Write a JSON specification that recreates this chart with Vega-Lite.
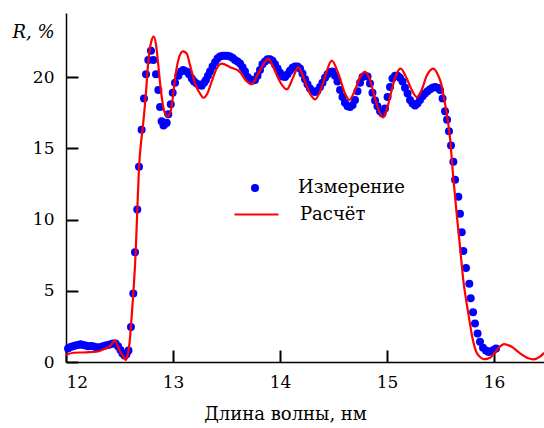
{
  "$schema": "https://vega.github.io/schema/vega-lite/v6.json",
  "width": 478,
  "height": 349,
  "autosize": {"type": "none"},
  "padding": {"left": 66, "top": 13, "right": 0, "bottom": 66},
  "background": "white",
  "config": {
    "view": {"stroke": null},
    "font": "DejaVu Serif",
    "axis": {
      "grid": false,
      "domainColor": "black",
      "domainWidth": 1.5,
      "ticks": true,
      "tickColor": "black",
      "tickWidth": 2,
      "tickSize": -12,
      "labelFont": "DejaVu Serif",
      "labelFontSize": 17,
      "labelColor": "black",
      "titleFont": "DejaVu Serif",
      "titleFontSize": 18,
      "titleFontWeight": "normal",
      "titleColor": "black"
    },
    "legend": {
      "labelFont": "DejaVu Serif",
      "labelFontSize": 18,
      "labelColor": "black",
      "padding": 0
    }
  },
  "datasets": {
    "meas": [
      {"lam": 12.019, "R": 0.95, "s": "Измерение"},
      {"lam": 12.042, "R": 1.05, "s": "Измерение"},
      {"lam": 12.065, "R": 1.10, "s": "Измерение"},
      {"lam": 12.089, "R": 1.15, "s": "Измерение"},
      {"lam": 12.112, "R": 1.20, "s": "Измерение"},
      {"lam": 12.136, "R": 1.25, "s": "Измерение"},
      {"lam": 12.159, "R": 1.20, "s": "Измерение"},
      {"lam": 12.182, "R": 1.15, "s": "Измерение"},
      {"lam": 12.206, "R": 1.10, "s": "Измерение"},
      {"lam": 12.229, "R": 1.12, "s": "Измерение"},
      {"lam": 12.252, "R": 1.10, "s": "Измерение"},
      {"lam": 12.276, "R": 1.05, "s": "Измерение"},
      {"lam": 12.299, "R": 1.00, "s": "Измерение"},
      {"lam": 12.322, "R": 1.05, "s": "Измерение"},
      {"lam": 12.346, "R": 1.10, "s": "Измерение"},
      {"lam": 12.369, "R": 1.15, "s": "Измерение"},
      {"lam": 12.393, "R": 1.20, "s": "Измерение"},
      {"lam": 12.416, "R": 1.25, "s": "Измерение"},
      {"lam": 12.439, "R": 1.30, "s": "Измерение"},
      {"lam": 12.463, "R": 1.30, "s": "Измерение"},
      {"lam": 12.486, "R": 1.10, "s": "Измерение"},
      {"lam": 12.509, "R": 0.85, "s": "Измерение"},
      {"lam": 12.528, "R": 0.60, "s": "Измерение"},
      {"lam": 12.547, "R": 0.45, "s": "Измерение"},
      {"lam": 12.565, "R": 0.55, "s": "Измерение"},
      {"lam": 12.584, "R": 0.80, "s": "Измерение"},
      {"lam": 12.607, "R": 2.45, "s": "Измерение"},
      {"lam": 12.629, "R": 4.80, "s": "Измерение"},
      {"lam": 12.645, "R": 7.70, "s": "Измерение"},
      {"lam": 12.666, "R": 10.70, "s": "Измерение"},
      {"lam": 12.682, "R": 13.70, "s": "Измерение"},
      {"lam": 12.707, "R": 16.30, "s": "Измерение"},
      {"lam": 12.729, "R": 18.50, "s": "Измерение"},
      {"lam": 12.748, "R": 20.20, "s": "Измерение"},
      {"lam": 12.769, "R": 21.20, "s": "Измерение"},
      {"lam": 12.794, "R": 21.85, "s": "Измерение"},
      {"lam": 12.816, "R": 21.20, "s": "Измерение"},
      {"lam": 12.841, "R": 20.20, "s": "Измерение"},
      {"lam": 12.863, "R": 19.10, "s": "Измерение"},
      {"lam": 12.879, "R": 17.90, "s": "Измерение"},
      {"lam": 12.894, "R": 16.90, "s": "Измерение"},
      {"lam": 12.911, "R": 16.60, "s": "Измерение"},
      {"lam": 12.925, "R": 16.70, "s": "Измерение"},
      {"lam": 12.941, "R": 16.80, "s": "Измерение"},
      {"lam": 12.956, "R": 17.40, "s": "Измерение"},
      {"lam": 12.979, "R": 18.10, "s": "Измерение"},
      {"lam": 12.997, "R": 18.90, "s": "Измерение"},
      {"lam": 13.019, "R": 19.60, "s": "Измерение"},
      {"lam": 13.050, "R": 20.10, "s": "Измерение"},
      {"lam": 13.075, "R": 20.40, "s": "Измерение"},
      {"lam": 13.096, "R": 20.50, "s": "Измерение"},
      {"lam": 13.128, "R": 20.40, "s": "Измерение"},
      {"lam": 13.150, "R": 20.20, "s": "Измерение"},
      {"lam": 13.175, "R": 19.90, "s": "Измерение"},
      {"lam": 13.196, "R": 19.70, "s": "Измерение"},
      {"lam": 13.221, "R": 19.55, "s": "Измерение"},
      {"lam": 13.243, "R": 19.45, "s": "Измерение"},
      {"lam": 13.268, "R": 19.40, "s": "Измерение"},
      {"lam": 13.290, "R": 19.60, "s": "Измерение"},
      {"lam": 13.308, "R": 19.80, "s": "Измерение"},
      {"lam": 13.327, "R": 20.10, "s": "Измерение"},
      {"lam": 13.346, "R": 20.40, "s": "Измерение"},
      {"lam": 13.369, "R": 20.75, "s": "Измерение"},
      {"lam": 13.393, "R": 21.05, "s": "Измерение"},
      {"lam": 13.416, "R": 21.30, "s": "Измерение"},
      {"lam": 13.439, "R": 21.45, "s": "Измерение"},
      {"lam": 13.463, "R": 21.50, "s": "Измерение"},
      {"lam": 13.486, "R": 21.50, "s": "Измерение"},
      {"lam": 13.509, "R": 21.50, "s": "Измерение"},
      {"lam": 13.533, "R": 21.45, "s": "Измерение"},
      {"lam": 13.556, "R": 21.35, "s": "Измерение"},
      {"lam": 13.579, "R": 21.20, "s": "Измерение"},
      {"lam": 13.603, "R": 21.10, "s": "Измерение"},
      {"lam": 13.626, "R": 20.95, "s": "Измерение"},
      {"lam": 13.650, "R": 20.70, "s": "Измерение"},
      {"lam": 13.673, "R": 20.40, "s": "Измерение"},
      {"lam": 13.696, "R": 20.00, "s": "Измерение"},
      {"lam": 13.720, "R": 19.85, "s": "Измерение"},
      {"lam": 13.743, "R": 19.75, "s": "Измерение"},
      {"lam": 13.766, "R": 19.80, "s": "Измерение"},
      {"lam": 13.790, "R": 20.10, "s": "Измерение"},
      {"lam": 13.813, "R": 20.50, "s": "Измерение"},
      {"lam": 13.836, "R": 20.90, "s": "Измерение"},
      {"lam": 13.860, "R": 21.10, "s": "Измерение"},
      {"lam": 13.883, "R": 21.25, "s": "Измерение"},
      {"lam": 13.907, "R": 21.25, "s": "Измерение"},
      {"lam": 13.930, "R": 21.15, "s": "Измерение"},
      {"lam": 13.953, "R": 20.90, "s": "Измерение"},
      {"lam": 13.977, "R": 20.60, "s": "Измерение"},
      {"lam": 14.000, "R": 20.30, "s": "Измерение"},
      {"lam": 14.023, "R": 20.05, "s": "Измерение"},
      {"lam": 14.047, "R": 20.00, "s": "Измерение"},
      {"lam": 14.070, "R": 20.20, "s": "Измерение"},
      {"lam": 14.093, "R": 20.45, "s": "Измерение"},
      {"lam": 14.117, "R": 20.65, "s": "Измерение"},
      {"lam": 14.140, "R": 20.75, "s": "Измерение"},
      {"lam": 14.164, "R": 20.75, "s": "Измерение"},
      {"lam": 14.187, "R": 20.60, "s": "Измерение"},
      {"lam": 14.210, "R": 20.25, "s": "Измерение"},
      {"lam": 14.234, "R": 19.85, "s": "Измерение"},
      {"lam": 14.257, "R": 19.50, "s": "Измерение"},
      {"lam": 14.280, "R": 19.20, "s": "Измерение"},
      {"lam": 14.304, "R": 19.00, "s": "Измерение"},
      {"lam": 14.327, "R": 18.95, "s": "Измерение"},
      {"lam": 14.350, "R": 19.05, "s": "Измерение"},
      {"lam": 14.374, "R": 19.30, "s": "Измерение"},
      {"lam": 14.397, "R": 19.60, "s": "Измерение"},
      {"lam": 14.421, "R": 19.95, "s": "Измерение"},
      {"lam": 14.444, "R": 20.20, "s": "Измерение"},
      {"lam": 14.467, "R": 20.35, "s": "Измерение"},
      {"lam": 14.491, "R": 20.40, "s": "Измерение"},
      {"lam": 14.514, "R": 20.10, "s": "Измерение"},
      {"lam": 14.537, "R": 19.70, "s": "Измерение"},
      {"lam": 14.561, "R": 19.10, "s": "Измерение"},
      {"lam": 14.584, "R": 18.60, "s": "Измерение"},
      {"lam": 14.607, "R": 18.20, "s": "Измерение"},
      {"lam": 14.631, "R": 17.95, "s": "Измерение"},
      {"lam": 14.654, "R": 17.90, "s": "Измерение"},
      {"lam": 14.678, "R": 18.05, "s": "Измерение"},
      {"lam": 14.701, "R": 18.40, "s": "Измерение"},
      {"lam": 14.724, "R": 19.00, "s": "Измерение"},
      {"lam": 14.748, "R": 19.60, "s": "Измерение"},
      {"lam": 14.771, "R": 20.00, "s": "Измерение"},
      {"lam": 14.794, "R": 20.10, "s": "Измерение"},
      {"lam": 14.818, "R": 20.05, "s": "Измерение"},
      {"lam": 14.841, "R": 19.55, "s": "Измерение"},
      {"lam": 14.864, "R": 18.90, "s": "Измерение"},
      {"lam": 14.888, "R": 18.35, "s": "Измерение"},
      {"lam": 14.911, "R": 17.95, "s": "Измерение"},
      {"lam": 14.935, "R": 17.60, "s": "Измерение"},
      {"lam": 14.958, "R": 17.45, "s": "Измерение"},
      {"lam": 14.981, "R": 17.80, "s": "Измерение"},
      {"lam": 15.005, "R": 18.60, "s": "Измерение"},
      {"lam": 15.028, "R": 19.30, "s": "Измерение"},
      {"lam": 15.051, "R": 19.90, "s": "Измерение"},
      {"lam": 15.075, "R": 20.10, "s": "Измерение"},
      {"lam": 15.098, "R": 20.10, "s": "Измерение"},
      {"lam": 15.121, "R": 19.95, "s": "Измерение"},
      {"lam": 15.145, "R": 19.70, "s": "Измерение"},
      {"lam": 15.168, "R": 19.25, "s": "Измерение"},
      {"lam": 15.192, "R": 18.85, "s": "Измерение"},
      {"lam": 15.215, "R": 18.40, "s": "Измерение"},
      {"lam": 15.238, "R": 18.15, "s": "Измерение"},
      {"lam": 15.262, "R": 18.00, "s": "Измерение"},
      {"lam": 15.285, "R": 18.15, "s": "Измерение"},
      {"lam": 15.308, "R": 18.40, "s": "Измерение"},
      {"lam": 15.332, "R": 18.65, "s": "Измерение"},
      {"lam": 15.355, "R": 18.85, "s": "Измерение"},
      {"lam": 15.379, "R": 19.00, "s": "Измерение"},
      {"lam": 15.402, "R": 19.15, "s": "Измерение"},
      {"lam": 15.425, "R": 19.25, "s": "Измерение"},
      {"lam": 15.449, "R": 19.30, "s": "Измерение"},
      {"lam": 15.472, "R": 19.25, "s": "Измерение"},
      {"lam": 15.495, "R": 19.10, "s": "Измерение"},
      {"lam": 15.519, "R": 18.50, "s": "Измерение"},
      {"lam": 15.542, "R": 17.60, "s": "Измерение"},
      {"lam": 15.561, "R": 17.00, "s": "Измерение"},
      {"lam": 15.579, "R": 16.20, "s": "Измерение"},
      {"lam": 15.598, "R": 15.20, "s": "Измерение"},
      {"lam": 15.620, "R": 14.05, "s": "Измерение"},
      {"lam": 15.636, "R": 12.80, "s": "Измерение"},
      {"lam": 15.666, "R": 11.60, "s": "Измерение"},
      {"lam": 15.682, "R": 10.40, "s": "Измерение"},
      {"lam": 15.698, "R": 9.10, "s": "Измерение"},
      {"lam": 15.713, "R": 7.80, "s": "Измерение"},
      {"lam": 15.738, "R": 6.60, "s": "Измерение"},
      {"lam": 15.769, "R": 5.50, "s": "Измерение"},
      {"lam": 15.782, "R": 4.47, "s": "Измерение"},
      {"lam": 15.804, "R": 3.50, "s": "Измерение"},
      {"lam": 15.822, "R": 2.70, "s": "Измерение"},
      {"lam": 15.846, "R": 2.00, "s": "Измерение"},
      {"lam": 15.869, "R": 1.43, "s": "Измерение"},
      {"lam": 15.897, "R": 1.00, "s": "Измерение"},
      {"lam": 15.925, "R": 0.80, "s": "Измерение"},
      {"lam": 15.949, "R": 0.70, "s": "Измерение"},
      {"lam": 15.972, "R": 0.75, "s": "Измерение"},
      {"lam": 15.995, "R": 0.85, "s": "Измерение"},
      {"lam": 16.019, "R": 0.95, "s": "Измерение"}
    ],
    "calc": [
      {"lam": 12.000, "R": 0.49, "s": "Расчёт"},
      {"lam": 12.068, "R": 0.65, "s": "Расчёт"},
      {"lam": 12.193, "R": 0.68, "s": "Расчёт"},
      {"lam": 12.287, "R": 0.72, "s": "Расчёт"},
      {"lam": 12.349, "R": 0.89, "s": "Расчёт"},
      {"lam": 12.411, "R": 1.12, "s": "Расчёт"},
      {"lam": 12.458, "R": 1.50, "s": "Расчёт"},
      {"lam": 12.498, "R": 0.84, "s": "Расчёт"},
      {"lam": 12.536, "R": 0.37, "s": "Расчёт"},
      {"lam": 12.561, "R": 0.15, "s": "Расчёт"},
      {"lam": 12.579, "R": 0.60, "s": "Расчёт"},
      {"lam": 12.593, "R": 1.30, "s": "Расчёт"},
      {"lam": 12.607, "R": 2.50, "s": "Расчёт"},
      {"lam": 12.629, "R": 4.80, "s": "Расчёт"},
      {"lam": 12.651, "R": 7.70, "s": "Расчёт"},
      {"lam": 12.666, "R": 10.60, "s": "Расчёт"},
      {"lam": 12.682, "R": 13.60, "s": "Расчёт"},
      {"lam": 12.707, "R": 15.80, "s": "Расчёт"},
      {"lam": 12.722, "R": 16.80, "s": "Расчёт"},
      {"lam": 12.748, "R": 19.00, "s": "Расчёт"},
      {"lam": 12.769, "R": 21.10, "s": "Расчёт"},
      {"lam": 12.801, "R": 22.60, "s": "Расчёт"},
      {"lam": 12.820, "R": 22.85, "s": "Расчёт"},
      {"lam": 12.841, "R": 22.30, "s": "Расчёт"},
      {"lam": 12.863, "R": 20.80, "s": "Расчёт"},
      {"lam": 12.885, "R": 19.20, "s": "Расчёт"},
      {"lam": 12.909, "R": 17.90, "s": "Расчёт"},
      {"lam": 12.944, "R": 17.25, "s": "Расчёт"},
      {"lam": 12.972, "R": 17.45, "s": "Расчёт"},
      {"lam": 12.997, "R": 18.50, "s": "Расчёт"},
      {"lam": 13.019, "R": 19.90, "s": "Расчёт"},
      {"lam": 13.050, "R": 21.20, "s": "Расчёт"},
      {"lam": 13.093, "R": 21.80, "s": "Расчёт"},
      {"lam": 13.128, "R": 21.66, "s": "Расчёт"},
      {"lam": 13.159, "R": 20.84, "s": "Расчёт"},
      {"lam": 13.206, "R": 19.55, "s": "Расчёт"},
      {"lam": 13.252, "R": 18.85, "s": "Расчёт"},
      {"lam": 13.285, "R": 18.55, "s": "Расчёт"},
      {"lam": 13.321, "R": 18.85, "s": "Расчёт"},
      {"lam": 13.362, "R": 19.70, "s": "Расчёт"},
      {"lam": 13.408, "R": 20.60, "s": "Расчёт"},
      {"lam": 13.455, "R": 20.95, "s": "Расчёт"},
      {"lam": 13.533, "R": 20.70, "s": "Расчёт"},
      {"lam": 13.626, "R": 20.35, "s": "Расчёт"},
      {"lam": 13.689, "R": 19.70, "s": "Расчёт"},
      {"lam": 13.736, "R": 19.50, "s": "Расчёт"},
      {"lam": 13.797, "R": 20.26, "s": "Расчёт"},
      {"lam": 13.860, "R": 21.07, "s": "Расчёт"},
      {"lam": 13.891, "R": 21.30, "s": "Расчёт"},
      {"lam": 13.937, "R": 20.70, "s": "Расчёт"},
      {"lam": 14.000, "R": 19.67, "s": "Расчёт"},
      {"lam": 14.063, "R": 19.14, "s": "Расчёт"},
      {"lam": 14.124, "R": 20.00, "s": "Расчёт"},
      {"lam": 14.171, "R": 20.70, "s": "Расчёт"},
      {"lam": 14.218, "R": 20.00, "s": "Расчёт"},
      {"lam": 14.280, "R": 18.85, "s": "Расчёт"},
      {"lam": 14.327, "R": 18.43, "s": "Расчёт"},
      {"lam": 14.390, "R": 19.30, "s": "Расчёт"},
      {"lam": 14.436, "R": 20.40, "s": "Расчёт"},
      {"lam": 14.483, "R": 21.15, "s": "Расчёт"},
      {"lam": 14.545, "R": 20.26, "s": "Расчёт"},
      {"lam": 14.607, "R": 18.85, "s": "Расчёт"},
      {"lam": 14.648, "R": 18.40, "s": "Расчёт"},
      {"lam": 14.701, "R": 19.10, "s": "Расчёт"},
      {"lam": 14.748, "R": 20.00, "s": "Расчёт"},
      {"lam": 14.794, "R": 20.37, "s": "Расчёт"},
      {"lam": 14.841, "R": 19.80, "s": "Расчёт"},
      {"lam": 14.888, "R": 18.50, "s": "Расчёт"},
      {"lam": 14.935, "R": 17.45, "s": "Расчёт"},
      {"lam": 14.965, "R": 17.17, "s": "Расчёт"},
      {"lam": 14.997, "R": 17.70, "s": "Расчёт"},
      {"lam": 15.044, "R": 19.10, "s": "Расчёт"},
      {"lam": 15.091, "R": 20.26, "s": "Расчёт"},
      {"lam": 15.128, "R": 20.60, "s": "Расчёт"},
      {"lam": 15.178, "R": 20.00, "s": "Расчёт"},
      {"lam": 15.231, "R": 19.10, "s": "Расчёт"},
      {"lam": 15.278, "R": 18.60, "s": "Расчёт"},
      {"lam": 15.324, "R": 19.10, "s": "Расчёт"},
      {"lam": 15.371, "R": 20.10, "s": "Расчёт"},
      {"lam": 15.433, "R": 20.60, "s": "Расчёт"},
      {"lam": 15.479, "R": 20.10, "s": "Расчёт"},
      {"lam": 15.511, "R": 19.40, "s": "Расчёт"},
      {"lam": 15.533, "R": 18.50, "s": "Расчёт"},
      {"lam": 15.558, "R": 17.45, "s": "Расчёт"},
      {"lam": 15.589, "R": 15.70, "s": "Расчёт"},
      {"lam": 15.620, "R": 12.90, "s": "Расчёт"},
      {"lam": 15.651, "R": 10.40, "s": "Расчёт"},
      {"lam": 15.682, "R": 8.10, "s": "Расчёт"},
      {"lam": 15.713, "R": 5.75, "s": "Расчёт"},
      {"lam": 15.738, "R": 4.40, "s": "Расчёт"},
      {"lam": 15.760, "R": 3.40, "s": "Расчёт"},
      {"lam": 15.801, "R": 1.60, "s": "Расчёт"},
      {"lam": 15.838, "R": 0.65, "s": "Расчёт"},
      {"lam": 15.869, "R": 0.35, "s": "Расчёт"},
      {"lam": 15.907, "R": 0.20, "s": "Расчёт"},
      {"lam": 15.963, "R": 0.30, "s": "Расчёт"},
      {"lam": 16.000, "R": 0.60, "s": "Расчёт"},
      {"lam": 16.040, "R": 0.96, "s": "Расчёт"},
      {"lam": 16.093, "R": 1.26, "s": "Расчёт"},
      {"lam": 16.165, "R": 1.07, "s": "Расчёт"},
      {"lam": 16.243, "R": 0.61, "s": "Расчёт"},
      {"lam": 16.321, "R": 0.26, "s": "Расчёт"},
      {"lam": 16.367, "R": 0.19, "s": "Расчёт"},
      {"lam": 16.430, "R": 0.37, "s": "Расчёт"},
      {"lam": 16.467, "R": 0.65, "s": "Расчёт"}
    ]
  },
  "layer": [
    {
      "data": {"name": "meas"},
      "mark": {"type": "circle", "size": 64, "opacity": 1},
      "encoding": {
        "x": {
          "field": "lam",
          "type": "quantitative",
          "scale": {"domain": [12, 16.467], "nice": false, "zero": false},
          "axis": {
            "orient": "bottom",
            "values": [12, 13, 14, 15, 16],
            "format": "d",
            "title": "Длина волны, нм",
            "labelPadding": 24,
            "titleX": 219,
            "titleY": 57,
            "titleBaseline": "alphabetic",
            "titleAlign": "center"
          }
        },
        "y": {
          "field": "R",
          "type": "quantitative",
          "scale": {"domain": [0, 24.5], "nice": false},
          "axis": {
            "orient": "left",
            "values": [0, 5, 10, 15, 20],
            "format": "d",
            "title": "R, %",
            "titleFontStyle": "italic",
            "titleAngle": 0,
            "titleAlign": "right",
            "titleBaseline": "alphabetic",
            "titleX": -12,
            "titleY": 24,
            "labelPadding": 24
          }
        },
        "color": {
          "field": "s",
          "type": "nominal",
          "scale": {"domain": ["Измерение"], "range": ["#0000ff"]},
          "legend": {
            "title": null,
            "orient": "none",
            "legendX": 180,
            "legendY": 166,
            "symbolType": "circle",
            "symbolSize": 64,
            "symbolOpacity": 1,
            "labelOffset": 34
          }
        }
      }
    },
    {
      "data": {"name": "calc"},
      "mark": {"type": "line", "strokeWidth": 2.2, "interpolate": "monotone", "clip": true},
      "encoding": {
        "x": {"field": "lam", "type": "quantitative"},
        "y": {"field": "R", "type": "quantitative"},
        "stroke": {
          "field": "s",
          "type": "nominal",
          "scale": {"domain": ["Расчёт"], "range": ["#ff0000"]},
          "legend": {
            "title": null,
            "orient": "none",
            "legendX": 167,
            "legendY": 178,
            "symbolType": "stroke",
            "symbolSize": 1936,
            "symbolStrokeWidth": 2.2,
            "labelOffset": 20
          }
        }
      }
    }
  ]
}
